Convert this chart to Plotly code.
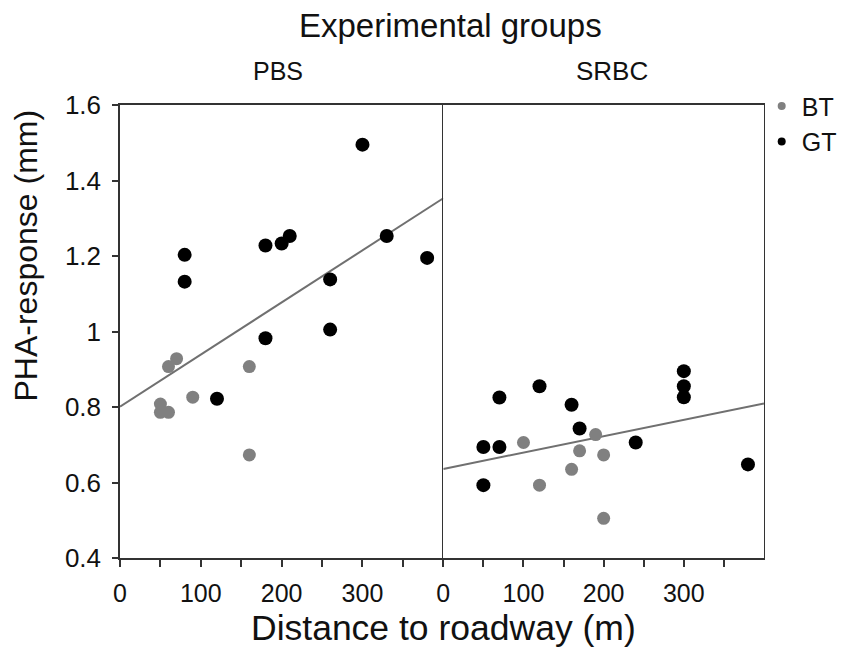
import plotly.graph_objects as go

W, H = 846, 657

# ---- data ----
pbs_gt_x = [300, 80, 80, 180, 200, 210, 330, 380, 260, 260, 180, 120]
pbs_gt_y = [1.495, 1.203, 1.132, 1.228, 1.233, 1.253, 1.253, 1.195, 1.138, 1.005, 0.982, 0.822]
pbs_bt_x = [70, 60, 160, 90, 50, 50, 60, 160]
pbs_bt_y = [0.928, 0.907, 0.907, 0.826, 0.808, 0.786, 0.786, 0.673]

srbc_gt_x = [50, 70, 50, 70, 120, 160, 170, 240, 300, 300, 300, 380]
srbc_gt_y = [0.694, 0.694, 0.593, 0.825, 0.855, 0.806, 0.743, 0.706, 0.895, 0.855, 0.826, 0.648]
srbc_bt_x = [100, 120, 170, 190, 200, 160, 200]
srbc_bt_y = [0.706, 0.593, 0.684, 0.727, 0.673, 0.635, 0.505]

pbs_fit_x = [0, 400]
pbs_fit_y = [0.801, 1.353]
srbc_fit_x = [0, 400]
srbc_fit_y = [0.636, 0.809]

x_tickvals = [0, 50, 100, 150, 200, 250, 300, 350]
x_ticktext = ["0", "", "100", "", "200", "", "300", ""]
y_tickvals = [0.4, 0.6, 0.8, 1.0, 1.2, 1.4, 1.6]
y_ticktext = ["0.4", "0.6", "0.8", "1", "1.2", "1.4", "1.6"]

panel_titles = ["PBS", "SRBC"]
group_names = ["BT", "GT"]

# ---- styles ----
FONT = "Liberation Sans, Arial, Helvetica, sans-serif"
GRAY = "#808080"
BLACK = "#000000"
LINE = "#333333"
FIT = "#707070"

# plot area in pixels
L, R, T, B = 119.7, 764.3, 104.7, 558.3
MID = 443.3

def px(x):
    return (x - L) / (R - L)

def py(y):
    return (B - y) / (B - T)

fig = go.Figure()

for (fx, fy, xa, ya) in [(pbs_fit_x, pbs_fit_y, "x", "y"), (srbc_fit_x, srbc_fit_y, "x2", "y2")]:
    fig.add_trace(go.Scatter(x=fx, y=fy, mode="lines", xaxis=xa, yaxis=ya,
                             line=dict(color=FIT, width=2), showlegend=False, hoverinfo="skip"))

for (bx, by, gx, gy, xa, ya) in [(pbs_bt_x, pbs_bt_y, pbs_gt_x, pbs_gt_y, "x", "y"),
                                 (srbc_bt_x, srbc_bt_y, srbc_gt_x, srbc_gt_y, "x2", "y2")]:
    fig.add_trace(go.Scatter(x=bx, y=by, mode="markers", xaxis=xa, yaxis=ya,
                             marker=dict(color=GRAY, size=13, line=dict(width=0)),
                             showlegend=False, name=group_names[0]))
    fig.add_trace(go.Scatter(x=gx, y=gy, mode="markers", xaxis=xa, yaxis=ya,
                             marker=dict(color=BLACK, size=14, line=dict(width=0)),
                             showlegend=False, name=group_names[1]))

# legend-only entries with small dots
for name, col in zip(group_names, [GRAY, BLACK]):
    fig.add_trace(go.Scatter(x=[None], y=[None], mode="markers", name=name,
                             marker=dict(color=col, size=8), showlegend=True))

xdom1 = [0, px(MID)]
xdom2 = [px(MID), 1]

axis_common = dict(
    range=[0, 400], tickmode="array", tickvals=x_tickvals, ticktext=x_ticktext,
    ticks="outside", ticklen=7, tickwidth=1.5, tickcolor=LINE,
    showline=True, linecolor=LINE, linewidth=1.5, mirror=True,
    showgrid=False, zeroline=False, tickfont=dict(family=FONT, size=25, color="#111"),
    ticklabelstandoff=5, fixedrange=True,
)

fig.update_layout(
    width=W, height=H,
    margin=dict(l=L, r=W - R, t=T, b=H - B, autoexpand=False),
    paper_bgcolor="white", plot_bgcolor="white",
    font=dict(family=FONT, color="#111"),
    xaxis=dict(domain=xdom1, anchor="y", **axis_common),
    xaxis2=dict(domain=xdom2, anchor="y2", **axis_common),
    yaxis=dict(domain=[0, 1], anchor="x", range=[0.4, 1.6], tickmode="array",
               tickvals=y_tickvals, ticktext=y_ticktext,
               ticks="outside", ticklen=6, tickwidth=1.5, tickcolor=LINE,
               showline=True, linecolor=LINE, linewidth=1.5, mirror=False,
               showgrid=False, zeroline=False,
               tickfont=dict(family=FONT, size=26, color="#111"),
               ticklabelstandoff=6, fixedrange=True),
    yaxis2=dict(domain=[0, 1], anchor="x2", range=[0.4, 1.6], showticklabels=False,
                ticks="", showline=True, linecolor=LINE, linewidth=1.3, mirror=True,
                showgrid=False, zeroline=False, fixedrange=True),
    legend=dict(x=px(762), y=py(83), xanchor="left", yanchor="top",
                font=dict(family=FONT, size=25, color="#111"),
                bgcolor="rgba(0,0,0,0)", tracegroupgap=0, itemsizing="trace"),
    showlegend=True,
)

annots = [
    dict(text="Experimental groups", x=px(450.5), y=py(25), size=33),
    dict(text=panel_titles[0], x=px(278), y=py(71), size=25),
    dict(text=panel_titles[1], x=px(611.7), y=py(71), size=26),
    dict(text="Distance to roadway (m)", x=px(444), y=py(628), size=35.5),
]
for a in annots:
    fig.add_annotation(text=a["text"], x=a["x"], y=a["y"], xref="paper", yref="paper",
                       xanchor="center", yanchor="middle", showarrow=False,
                       font=dict(family=FONT, size=a["size"], color="#111"))

fig.add_annotation(text="PHA-response (mm)", x=px(26), y=py(255), xref="paper", yref="paper",
                   xanchor="center", yanchor="middle", showarrow=False, textangle=-90,
                   font=dict(family=FONT, size=32, color="#111"))

fig.write_html("out.html", config={"displayModeBar": False},
               post_script="document.body.style.margin='0';")
